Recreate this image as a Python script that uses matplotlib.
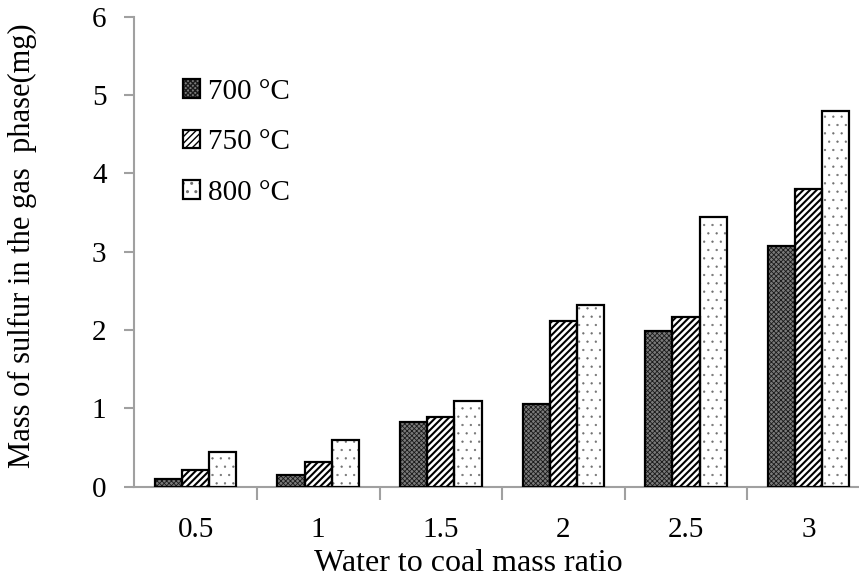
import matplotlib
matplotlib.use("Agg")
import matplotlib.pyplot as plt
import numpy as np

ratios = ["0.5", "1", "1.5", "2", "2.5", "3"]
temps = ["700 \u00b0C", "750 \u00b0C", "800 \u00b0C"]
mass_700 = [0.10, 0.15, 0.82, 1.06, 1.99, 3.07]
mass_750 = [0.21, 0.32, 0.89, 2.11, 2.17, 3.80]
mass_800 = [0.44, 0.60, 1.10, 2.32, 3.44, 4.79]
series = [mass_700, mass_750, mass_800]

plt.rcParams["font.family"] = ["Liberation Serif", "DejaVu Serif"]

W, H = 859, 581
fig = plt.figure(figsize=(W / 100, H / 100), dpi=100)
left = 134.3 / W
bottom = (H - 486.7) / H
top = (H - 16.7) / H
ax = fig.add_axes([left, bottom, 1.0 - left, top - bottom])

# fill colour, hatch pattern, hatch colour, hatch line width
styles = [
    ("#7a7a7a", "xxxxxxx", "#1a1a1a", 0.6),
    ("white", "/////", "black", 1.5),
    ("white", "..", "#707070", 0.4),
]

x = np.arange(len(ratios))
bw = 1.0 / 4.5
handles = []
for i, (vals, (fc, hatch, hc, hlw)) in enumerate(zip(series, styles)):
    pos = x + (i - 1) * bw
    with plt.rc_context({"hatch.linewidth": hlw}):
        fill = ax.bar(pos, vals, width=bw, facecolor=fc, hatch=hatch,
                      edgecolor=hc, linewidth=0, zorder=3)
    for p in fill.patches:
        if hasattr(p, "set_hatch_linewidth"):
            p.set_hatch_linewidth(hlw)
    outline = ax.bar(pos, vals, width=bw, fill=False, edgecolor="black",
                     linewidth=1.6, zorder=4)
    handles.append((fill, outline))

ax.set_ylim(0, 6)
ax.set_xlim(-0.5, -0.5 + (W - 134.3) / 122.6)
ax.set_yticks(range(0, 7))
ax.set_xticks(x)
ax.set_xticklabels(ratios)
ax.set_xticks(np.arange(0.5, 5.5, 1.0), minor=True)

grey = "#a0a0a0"
for s in ["top", "right"]:
    ax.spines[s].set_visible(False)
for s in ["left", "bottom"]:
    ax.spines[s].set_color(grey)
    ax.spines[s].set_linewidth(1.5)

ax.tick_params(axis="y", direction="out", length=7, width=1.5, color=grey,
               labelsize=21, pad=13)
ax.tick_params(axis="x", which="major", length=0, labelsize=21, pad=22)
ax.tick_params(axis="x", which="minor", direction="out", length=9, width=1.5,
               color=grey)

ax.set_ylabel("Mass of sulfur in the gas  phase(mg)", fontsize=22)
ax.yaxis.set_label_coords(37 / W, (H - 245.5) / H, transform=fig.transFigure)
ax.set_xlabel("Water to coal mass ratio", fontsize=23)
ax.xaxis.set_label_coords(468 / W, (H - 549) / H, transform=fig.transFigure)

ax.legend(handles=handles, labels=temps, loc="upper left",
          bbox_to_anchor=(0.047, 0.899), frameon=False, fontsize=21,
          handlelength=0.6, handleheight=0.6, handletextpad=0.25,
          labelspacing=0.84, borderpad=0)

fig.savefig("out.png", dpi=100)
